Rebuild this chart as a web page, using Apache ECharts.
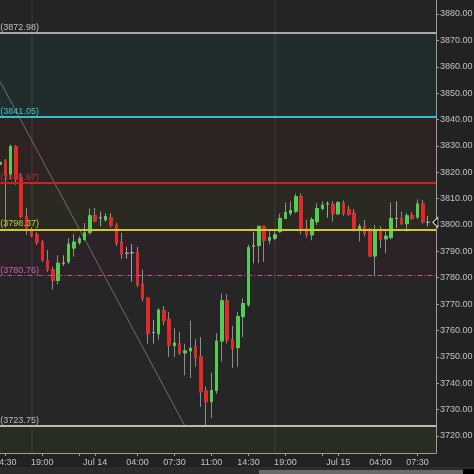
<!DOCTYPE html>
<html><head><meta charset="utf-8">
<script src="https://cdn.jsdelivr.net/npm/echarts@6/dist/echarts.min.js"></script>
<style>html,body{margin:0;padding:0;background:#222222;}#c{width:474px;height:474px;}</style>
</head><body><div id="c"></div>
<script>
// 30-minute bars, ES futures (session break 17:00-18:00)
const categories = [
 '07-13 14:00','07-13 14:30','07-13 15:00','07-13 15:30','07-13 16:00','07-13 16:30',
 '07-13 18:00','07-13 18:30','07-13 19:00','07-13 19:30','07-13 20:00','07-13 20:30',
 '07-13 21:00','07-13 21:30','07-13 22:00','07-13 22:30','07-13 23:00','07-13 23:30',
 '07-14 00:00','07-14 00:30','07-14 01:00','07-14 01:30','07-14 02:00','07-14 02:30',
 '07-14 03:00','07-14 03:30','07-14 04:00','07-14 04:30','07-14 05:00','07-14 05:30',
 '07-14 06:00','07-14 06:30','07-14 07:00','07-14 07:30','07-14 08:00','07-14 08:30',
 '07-14 09:00','07-14 09:30','07-14 10:00','07-14 10:30','07-14 11:00','07-14 11:30',
 '07-14 12:00','07-14 12:30','07-14 13:00','07-14 13:30','07-14 14:00','07-14 14:30',
 '07-14 15:00','07-14 15:30','07-14 16:00','07-14 16:30',
 '07-14 18:00','07-14 18:30','07-14 19:00','07-14 19:30','07-14 20:00','07-14 20:30',
 '07-14 21:00','07-14 21:30','07-14 22:00','07-14 22:30','07-14 23:00','07-14 23:30',
 '07-15 00:00','07-15 00:30','07-15 01:00','07-15 01:30','07-15 02:00','07-15 02:30',
 '07-15 03:00','07-15 03:30','07-15 04:00','07-15 04:30','07-15 05:00','07-15 05:30',
 '07-15 06:00','07-15 06:30','07-15 07:00','07-15 07:30','07-15 08:00','07-15 08:30',
 '07-15 09:00'
];
const opens = [
 3823.00,3824.25,3819.25,3829.75,3817.75,3803.25,3797.75,3796.25,3793.50,3786.50,
 3783.00,3779.00,3785.50,3786.00,3791.25,3793.25,3794.50,3797.25,3803.50,3802.75,
 3802.00,3802.75,3799.75,3793.50,3789.25,3789.50,3789.75,3777.50,3772.25,3759.25,
 3758.75,3767.50,3764.25,3754.25,3755.00,3751.50,3752.25,3753.75,3750.00,3737.00,
 3733.00,3737.25,3756.00,3771.25,3756.50,3753.50,3765.25,3769.75,3792.00,3792.25,
 3799.50,3794.25,3795.00,3797.50,3802.50,3804.50,3805.25,3810.75,3798.75,3796.25,
 3801.25,3806.25,3808.00,3807.75,3804.25,3808.25,3805.75,3804.50,3798.00,3799.50,
 3797.50,3788.25,3797.75,3794.75,3795.25,3802.50,3802.50,3800.50,3803.50,3803.00,
 3808.00,3801.00
];
const closes = [
 3823.75,3819.00,3829.75,3817.25,3803.25,3799.00,3796.00,3793.50,3786.75,3783.00,
 3779.00,3785.50,3785.50,3792.75,3793.50,3794.75,3797.00,3803.50,3801.50,3802.75,
 3803.25,3800.00,3793.25,3789.00,3789.25,3789.50,3777.25,3772.25,3759.00,3759.25,
 3767.75,3763.75,3754.50,3755.25,3751.50,3752.25,3753.25,3749.75,3736.75,3733.00,
 3737.25,3756.00,3771.25,3756.50,3753.25,3765.25,3770.25,3791.50,3792.00,3799.50,
 3794.25,3795.25,3796.25,3802.50,3804.75,3805.50,3810.75,3798.00,3796.50,3802.00,
 3806.25,3807.50,3808.00,3804.25,3808.50,3804.50,3804.00,3798.00,3799.50,3797.00,
 3788.25,3797.75,3794.50,3795.75,3802.50,3802.50,3800.50,3803.50,3802.50,3808.00,
 3801.25,3801.00
];
const lows = [
 3822.25,3799.00,3817.50,3815.25,3802.50,3796.25,3795.50,3792.50,3786.00,3782.25,
 3775.50,3777.50,3784.50,3785.25,3788.00,3792.50,3794.00,3796.25,3801.00,3799.50,
 3801.25,3799.00,3792.00,3787.00,3787.25,3778.50,3776.50,3771.00,3755.00,3755.00,
 3756.50,3762.00,3750.00,3750.00,3750.75,3743.00,3742.00,3746.25,3731.00,3723.75,
 3726.75,3736.00,3748.25,3755.00,3745.75,3746.25,3757.50,3769.00,3785.50,3785.50,
 3786.00,3792.75,3794.25,3797.00,3802.25,3803.50,3804.50,3796.50,3795.25,3794.25,
 3800.00,3805.50,3802.75,3801.25,3803.75,3803.50,3803.50,3797.50,3793.75,3795.75,
 3788.00,3780.50,3791.25,3789.25,3794.50,3798.75,3800.00,3797.50,3802.00,3802.25,
 3800.50,3799.50
];
const highs = [
 3824.50,3825.00,3830.50,3830.25,3819.75,3806.50,3799.00,3797.25,3794.25,3790.50,
 3784.25,3788.50,3788.50,3795.00,3796.50,3795.75,3800.75,3806.25,3806.50,3805.00,
 3804.50,3804.50,3800.75,3797.00,3791.75,3792.75,3791.75,3783.00,3772.75,3764.00,
 3768.50,3769.25,3767.00,3760.75,3759.50,3755.00,3763.75,3756.75,3757.50,3738.75,
 3744.00,3759.00,3774.00,3773.75,3761.75,3767.00,3772.25,3792.50,3797.50,3799.75,
 3799.75,3798.00,3798.00,3804.25,3808.50,3809.00,3812.00,3812.00,3802.00,3803.00,
 3808.25,3809.00,3809.00,3809.00,3809.00,3809.25,3807.25,3806.00,3800.50,3802.00,
 3798.75,3800.00,3799.50,3798.00,3808.50,3809.00,3805.00,3804.50,3804.75,3809.75,
 3809.50,3803.50
];
// Fibonacci retracement levels
const levelValues = [3872.98, 3841.05, 3815.97, 3798.37, 3780.76, 3723.75];
const levelLabels = ['(3872.98)', '(3841.05)', '(3815.97)', '(3798.37)', '(3780.76)', '(3723.75)'];
// trendline endpoints [category, price]
const trendPoints = [['07-13 14:00', 3854.5], ['07-14 08:30', 3723.75]];
const sessionStarts = ['07-13 18:00', '07-14 18:00'];
const lastPrice = 3801.00;
const yTicks = [3720,3730,3740,3750,3760,3770,3780,3790,3800,3810,3820,3830,3840,3850,3860,3870,3880];
const xTickCats = ['07-13 14:30','07-13 19:00','07-13 22:30','07-14 00:00','07-14 04:00','07-14 07:30',
  '07-14 11:00','07-14 14:30','07-14 19:00','07-14 22:30','07-15 00:00','07-15 04:00','07-15 07:30'];
const xTickTexts = ['14:30','19:00','','Jul 14','04:00','07:30','11:00','14:30','19:00','','Jul 15','04:00','07:30'];

const yMin = 3713.55, yMax = 3885.31;
const UP = '#52cf52', DOWN = '#e3282a', WICK = '#8c8c8c';
const FONT = 'Liberation Sans, Arial, sans-serif';

const ohlc = opens.map((o, i) => [o, closes[i], lows[i], highs[i]]);
const bodies = opens.map((o, i) => [o, closes[i], Math.min(o, closes[i]), Math.max(o, closes[i])]);

const bandColors = ['#242424', '#212d2d', '#2d2323', '#2a2a22', '#2b2328', '#262626', '#282d22'];
const bandEdges = [yMax].concat(levelValues, [yMin]);
const markAreaData = bandColors.map((c, i) => [
  { yAxis: bandEdges[i + 1], itemStyle: { color: c } },
  { yAxis: bandEdges[i] }
]);
const levelStyles = [
  { color: '#a9a9a9', width: 2, type: 'solid', label: '#bdbdbd' },
  { color: '#3bbcc4', width: 2, type: 'solid', label: '#43c4c8' },
  { color: '#c2261d', width: 2, type: 'solid', label: '#b2302a' },
  { color: '#cccc24', width: 2, type: 'solid', label: '#c8c840' },
  { color: '#c4509c', width: 1, type: [5, 2, 1, 2], label: '#c466a6' },
  { color: '#b9b9b9', width: 2, type: 'solid', label: '#bdbdbd' }
];
const markLineData = levelValues.map((v, i) => ({
  yAxis: v,
  lineStyle: { color: levelStyles[i].color, width: levelStyles[i].width, type: levelStyles[i].type },
  label: { show: true, formatter: levelLabels[i], position: 'insideStartTop', distance: [3, 1],
           color: levelStyles[i].label, fontSize: 9, fontFamily: FONT }
})).concat(sessionStarts.map(c => ({
  xAxis: c, lineStyle: { color: 'rgba(255,255,255,0.05)', width: 2, type: 'solid' }, label: { show: false }
})));

const chart = echarts.init(document.getElementById('c'), null, { renderer: 'canvas' });
chart.setOption({
  animation: false,
  backgroundColor: '#222222',
  grid: { left: -2.64, right: 38, top: 0, bottom: 21, show: true, backgroundColor: '#262626',
          borderWidth: 0, containLabel: false, outerBoundsMode: 'none' },
  xAxis: {
    type: 'category', data: categories, boundaryGap: true,
    axisLine: { show: true, lineStyle: { color: '#9c9c9c', width: 1 } },
    axisTick: { show: true, alignWithLabel: true, length: 3, lineStyle: { color: '#9c9c9c' },
                interval: (i, v) => xTickCats.indexOf(v) >= 0 },
    axisLabel: { interval: (i, v) => { const k = xTickCats.indexOf(v); return k >= 0 && xTickTexts[k] !== ''; },
                 formatter: v => xTickTexts[xTickCats.indexOf(v)], color: '#c2c2c2', fontSize: 9,
                 fontFamily: FONT, margin: 5 },
    splitLine: { show: false }
  },
  yAxis: {
    type: 'value', position: 'right', min: yMin, max: yMax, scale: true,
    axisLine: { show: true, lineStyle: { color: '#9c9c9c', width: 1 } },
    axisTick: { show: true, length: 3, customValues: yTicks, lineStyle: { color: '#9c9c9c' } },
    axisLabel: { customValues: yTicks, formatter: v => v.toFixed(2), color: '#c2c2c2', fontSize: 9,
                 fontFamily: FONT, margin: 4 },
    splitLine: { show: false }
  },
  series: [
    {
      type: 'line', z: 1, data: trendPoints, symbol: 'none', silent: true,
      lineStyle: { color: 'rgba(170,170,170,0.55)', width: 1 },
      markArea: { silent: true, data: markAreaData },
      markLine: { silent: true, symbol: 'none', data: markLineData }
    },
    {
      type: 'candlestick', z: 3, data: ohlc, barWidth: 3, silent: true,
      itemStyle: { color: WICK, color0: WICK, borderColor: WICK, borderColor0: WICK,
                   borderColorDoji: '#a0a0a0', borderWidth: 1 }
    },
    {
      type: 'candlestick', z: 4, data: bodies, barWidth: 3, silent: true,
      itemStyle: { color: UP, color0: DOWN, borderColor: UP, borderColor0: DOWN,
                   borderColorDoji: '#a0a0a0', borderWidth: 1 },
      markLine: {
        silent: true, symbol: 'none',
        data: [{ yAxis: lastPrice, lineStyle: { opacity: 0 },
                 label: { show: true, position: 'end', distance: 2, formatter: lastPrice.toFixed(2),
                          color: '#ffffff', fontSize: 9, fontWeight: 'bold', fontFamily: FONT,
                          backgroundColor: '#050505', borderColor: '#d8d8d8', borderWidth: 1,
                          padding: [3, 3, 2, 3] } }]
      },
      markPoint: {
        silent: true,
        data: [{ coord: ['07-15 09:00', lastPrice], symbol: 'path://M0,5 L5,0 L5,10 Z',
                 symbolSize: [5, 10], symbolOffset: [2, 0],
                 itemStyle: { color: '#050505', borderColor: '#d8d8d8', borderWidth: 1 },
                 label: { show: false } }]
      }
    }
  ],
  graphic: [
    { type: 'rect', left: 0, top: 467, shape: { width: 474, height: 7 }, style: { fill: '#2b2b2b' }, silent: true },
    { type: 'rect', left: 259, top: 470, shape: { width: 204, height: 4 }, style: { fill: '#6a6a6a' }, silent: true },
    { type: 'rect', left: 463, top: 469, shape: { width: 11, height: 5 }, style: { fill: '#000000' }, silent: true }
  ]
});
</script>
</body></html>
